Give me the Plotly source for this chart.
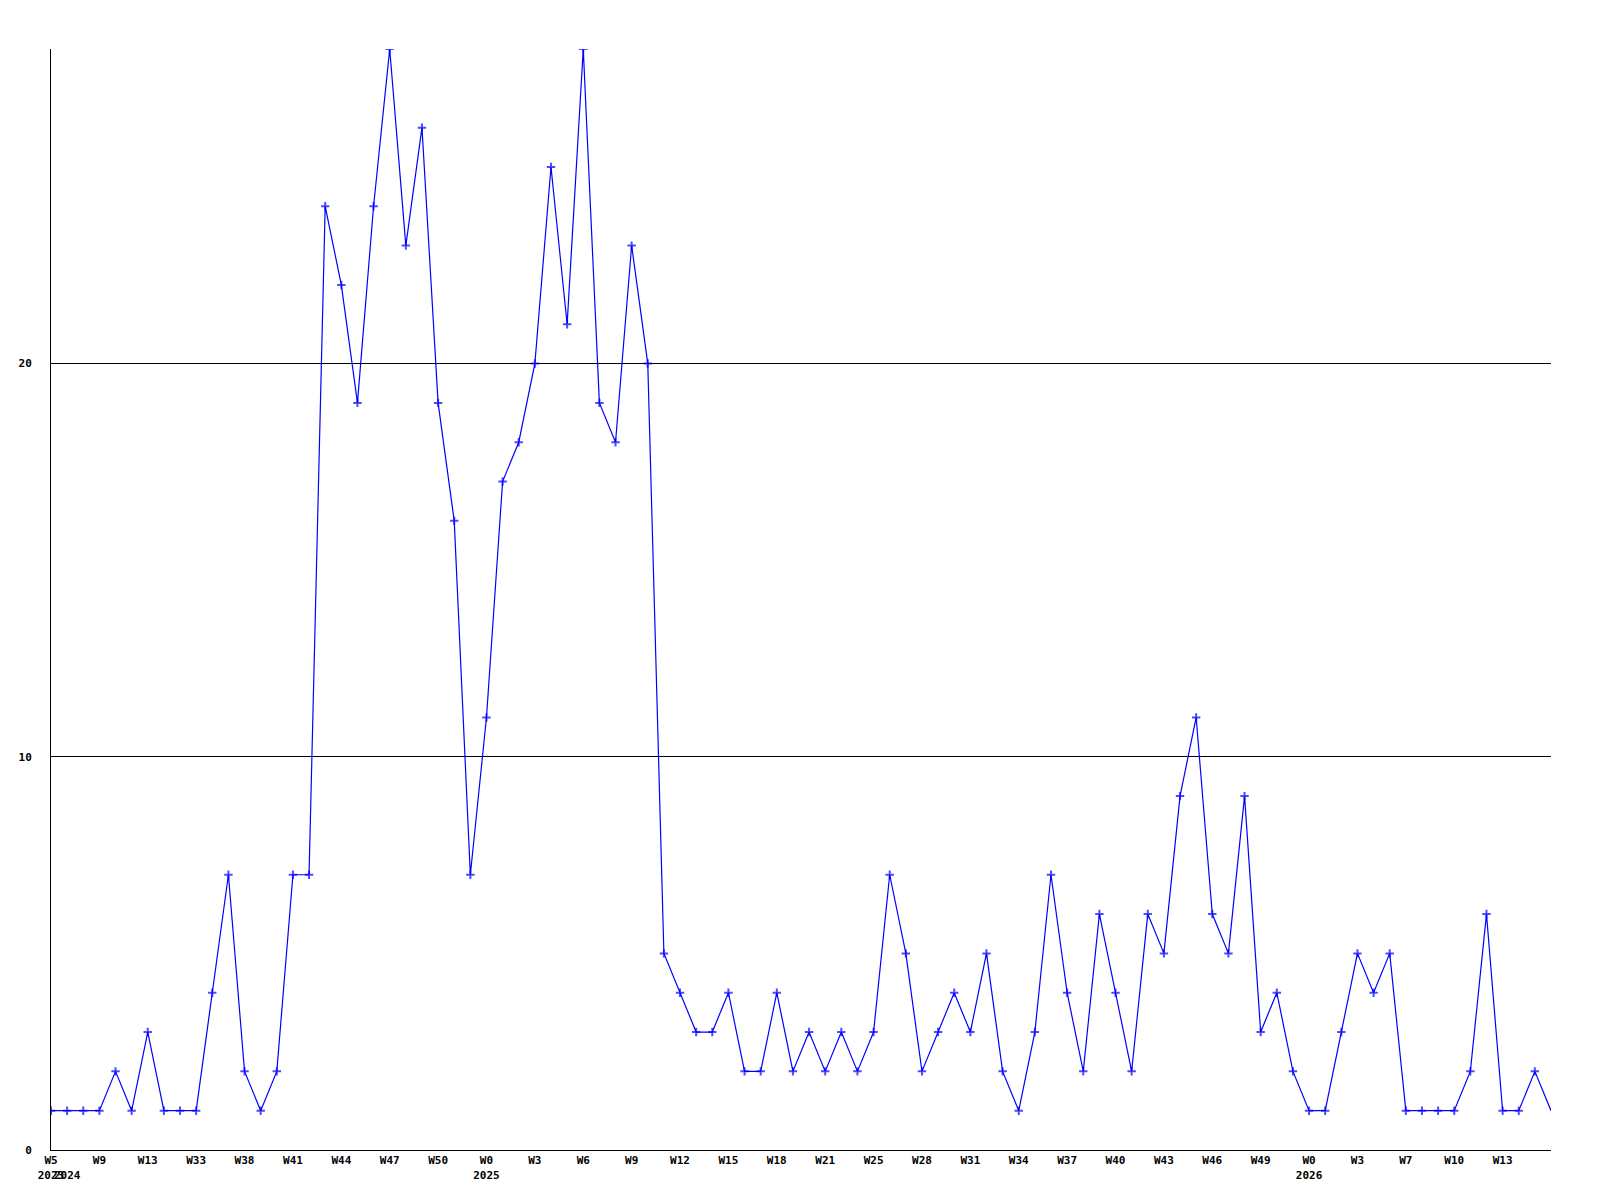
import plotly.graph_objects as go

values = [1, 1, 1, 1, 2, 1, 3, 1, 1, 1, 4, 7, 2, 1, 2, 7, 7, 24, 22, 19,
          24, 28, 23, 26, 19, 16, 7, 11, 17, 18, 20, 25, 21, 28, 19, 18, 23, 20, 5, 4,
          3, 3, 4, 2, 2, 4, 2, 3, 2, 3, 2, 3, 7, 5, 2, 3, 4, 3, 5, 2,
          1, 3, 7, 4, 2, 6, 4, 2, 6, 5, 9, 11, 6, 5, 9, 3, 4, 2, 1, 1,
          3, 5, 4, 5, 1, 1, 1, 1, 2, 6, 1, 1, 2, 1]

tick_positions = [0, 1, 3, 6, 9, 12, 15, 18, 21, 24, 27, 30, 33, 36, 39, 42, 45, 48,
                  51, 54, 57, 60, 63, 66, 69, 72, 75, 78, 81, 84, 87, 90]
tick_weeks = ["W5", "", "W9", "W13", "W33", "W38", "W41", "W44", "W47", "W50", "W0", "W3",
              "W6", "W9", "W12", "W15", "W18", "W21", "W25", "W28", "W31", "W34", "W37",
              "W40", "W43", "W46", "W49", "W0", "W3", "W7", "W10", "W13"]
tick_years = ["2023", "2024", "", "", "", "", "", "", "", "", "2025", "", "", "", "", "", "",
              "", "", "", "", "", "", "", "", "", "", "2026", "", "", "", ""]

y_ticks = [0, 10, 20]

x = list(range(len(values)))
ticktext = [f"<b>{w if w else ' '}</b><br><b>{y if y else ' '}</b>" for w, y in zip(tick_weeks, tick_years)]

marker_sizes = [6] * len(values)
marker_sizes[-1] = 0

fig = go.Figure(go.Scatter(
    x=x, y=values, mode="lines+markers",
    line=dict(color="#0000ff", width=1.2),
    marker=dict(symbol="cross-thin", size=marker_sizes, color="#0000ff",
                line=dict(color="#0000ff", width=2)),
))

fig.update_layout(
    width=1600, height=1200,
    margin=dict(l=43, r=57, t=41, b=58),
    paper_bgcolor="white", plot_bgcolor="white",
    showlegend=False,
    font=dict(family="DejaVu Sans Mono", size=11, color="black"),
)
fig.update_xaxes(
    range=[0, len(values) - 1], tickvals=tick_positions, ticktext=ticktext,
    tickangle=0, ticks="", showgrid=False, zeroline=False,
    showline=True, linecolor="black", linewidth=1,
    tickfont=dict(family="DejaVu Sans Mono", size=11, color="black"),
)
fig.update_yaxes(
    range=[0, 28], tickvals=y_ticks, ticktext=[f"<b>{v}</b>" for v in y_ticks],
    ticks="", showgrid=True, gridcolor="black", gridwidth=1, zeroline=False,
    showline=True, linecolor="black", linewidth=1, ticklabelstandoff=16,
    tickfont=dict(family="DejaVu Sans Mono", size=11, color="black"),
)

fig.write_html("out.html")
